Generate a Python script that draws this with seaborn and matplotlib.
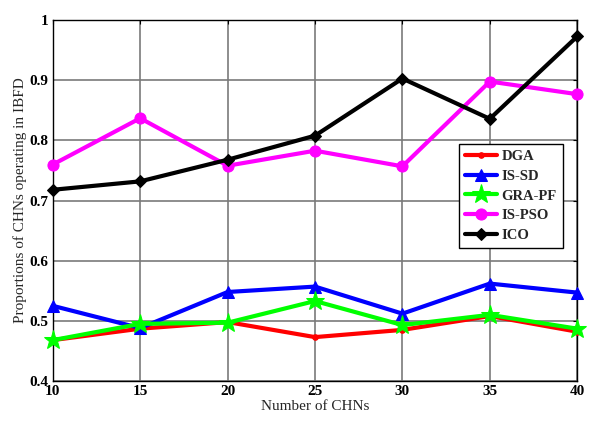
import matplotlib
matplotlib.use("Agg")
import matplotlib.pyplot as plt
import seaborn as sns
import pandas as pd

# values
chns = [10, 15, 20, 25, 30, 35, 40]
dga = [0.468, 0.487, 0.498, 0.473, 0.485, 0.508, 0.482]
is_sd = [0.525, 0.488, 0.548, 0.557, 0.512, 0.562, 0.547]
gra_pf = [0.468, 0.495, 0.497, 0.533, 0.493, 0.510, 0.487]
is_pso = [0.760, 0.837, 0.758, 0.783, 0.757, 0.898, 0.877]
ico = [0.718, 0.732, 0.768, 0.808, 0.903, 0.836, 0.973]

series_names = ["DGA", "IS-SD", "GRA-PF", "IS-PSO", "ICO"]
series_vals = [dga, is_sd, gra_pf, is_pso, ico]

rows = []
for name, vals in zip(series_names, series_vals):
    for x, v in zip(chns, vals):
        rows.append({"CHNs": x, "value": v, "method": name})
df = pd.DataFrame(rows)

sns.set_style("white")
plt.rcParams['font.family'] = ['Liberation Serif', 'DejaVu Serif']

fig = plt.figure(figsize=(6, 4.21), dpi=100)
ax = fig.add_axes([0.088, 0.095, 0.874, 0.857])

colors = {"DGA": "#ff0000", "IS-SD": "#0000ff", "GRA-PF": "#00ff00",
          "IS-PSO": "#ff00ff", "ICO": "#000000"}
markers = {"DGA": "o", "IS-SD": "^", "GRA-PF": "*", "IS-PSO": "o", "ICO": "D"}
msizes = {"DGA": 4, "IS-SD": 9, "GRA-PF": 14, "IS-PSO": 8, "ICO": 6}

for name in series_names:
    sub = df[df["method"] == name]
    sns.lineplot(data=sub, x="CHNs", y="value", ax=ax, color=colors[name],
                 marker=markers[name], markersize=msizes[name],
                 markeredgecolor=colors[name], linewidth=3, label=name,
                 clip_on=False, zorder=3)

ax.set_xlim(10, 40)
ax.set_ylim(0.4, 1.0)
ax.set_xticks(chns)
ax.set_yticks([0.4, 0.5, 0.6, 0.7, 0.8, 0.9, 1.0])
ax.set_yticklabels(["0.4", "0.5", "0.6", "0.7", "0.8", "0.9", "1"])
ax.grid(True, color="#7a7a7a", linewidth=1.2)
ax.set_axisbelow(True)
for s in ax.spines.values():
    s.set_color("black")
    s.set_linewidth(1.0)
ax.tick_params(direction="in", length=3, top=True, right=True, labelsize=11,
               colors="black", pad=3)
for lab in ax.get_xticklabels() + ax.get_yticklabels():
    lab.set_fontweight("bold")

ax.set_xlabel("Number of CHNs", fontsize=11, labelpad=1)
ax.set_ylabel("Proportions of CHNs operating in IBFD", fontsize=11, labelpad=2)

leg = ax.legend(loc="upper left", bbox_to_anchor=(0.775, 0.657), frameon=True,
                fancybox=False, edgecolor="black", framealpha=1,
                prop={"weight": "bold", "size": 10.5}, handlelength=2.2,
                borderpad=0.4, labelspacing=0.45, handletextpad=0.3,
                borderaxespad=0)
leg.get_frame().set_linewidth(1.0)
leg.set_zorder(5)

fig.savefig("out.png", dpi=100)
